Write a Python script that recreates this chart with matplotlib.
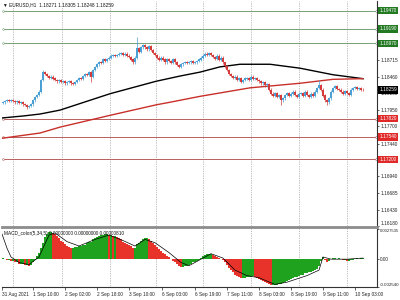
import numpy as np
import matplotlib
matplotlib.use('Agg')
import matplotlib.pyplot as plt
import matplotlib.transforms as mtransforms

plt.rcParams['font.family'] = ['Liberation Sans', 'DejaVu Sans']

# Hourly closes, EURUSD H1 (bar 0 = 31 Aug 2021)
closes = [
    1.1807, 1.1809, 1.1810, 1.1809, 1.1810, 1.1809, 1.1807, 1.1809, 1.1806, 1.1807,
    1.1804, 1.1803, 1.1800, 1.1801, 1.1804, 1.1810, 1.1815, 1.1818, 1.1823, 1.1841,
    1.1853, 1.1850, 1.1847, 1.1844, 1.1846, 1.1843, 1.1841, 1.1839, 1.1841, 1.1838,
    1.1839, 1.1836, 1.1838, 1.1839, 1.1836, 1.1835, 1.1838, 1.1841, 1.1844, 1.1843,
    1.1847, 1.1850, 1.1849, 1.1853, 1.1846, 1.1856, 1.1861, 1.1865, 1.1868, 1.1867,
    1.1872, 1.1870, 1.1873, 1.1875, 1.1878, 1.1879, 1.1878, 1.1879, 1.1881, 1.1882,
    1.1879, 1.1881, 1.1878, 1.1876, 1.1872, 1.1868, 1.1875, 1.1890, 1.1884, 1.1891,
    1.1894, 1.1891, 1.1888, 1.1893, 1.1887, 1.1882, 1.1879, 1.1875, 1.1872, 1.1875,
    1.1872, 1.1868, 1.1873, 1.1870, 1.1867, 1.1872, 1.1868, 1.1864, 1.1861, 1.1865,
    1.1867, 1.1868, 1.1867, 1.1868, 1.1870, 1.1867, 1.1868, 1.1870, 1.1872, 1.1875,
    1.1878, 1.1881, 1.1879, 1.1882, 1.1879, 1.1876, 1.1873, 1.1878, 1.1872, 1.1875,
    1.1868, 1.1862, 1.1856, 1.1850, 1.1847, 1.1844, 1.1846, 1.1841, 1.1843, 1.1838,
    1.1841, 1.1843, 1.1844, 1.1841, 1.1846, 1.1843, 1.1844, 1.1841, 1.1839, 1.1836,
    1.1838, 1.1833, 1.1835, 1.1826, 1.1820, 1.1817, 1.1821, 1.1815, 1.1818, 1.1810,
    1.1813, 1.1818, 1.1821, 1.1817, 1.1820, 1.1823, 1.1818, 1.1815, 1.1820, 1.1821,
    1.1817, 1.1823, 1.1818, 1.1815, 1.1820, 1.1817, 1.1823, 1.1829, 1.1833, 1.1826,
    1.1817, 1.1810, 1.1807, 1.1813, 1.1823, 1.1829, 1.1832, 1.1827, 1.1826, 1.1823,
    1.1820, 1.1824, 1.1821, 1.1818, 1.1826, 1.1829, 1.1830, 1.1827, 1.1829, 1.1826,
    1.18259,
]
first_open = 1.1806
spike_high = {67: 1.1907, 158: 1.1841, 20: 1.1856, 111: 1.1866}
spike_low = {12: 1.1797, 44: 1.1838, 139: 1.1803, 162: 1.1803, 65: 1.1865}

# moving averages (bar index, price)
ma_black_x = [-0.5, 10, 18.5, 28.5, 43.5, 53.5, 76.5, 88.5, 98.5, 108.5, 118.5, 133.5, 148.5, 165, 180]
ma_black_y = [1.1783, 1.1786, 1.1789, 1.1795, 1.1810, 1.1820, 1.1839, 1.1847, 1.1853, 1.1861,
              1.1865, 1.1865, 1.1859, 1.1849, 1.1843]
ma_red_x = [-0.5, 18.5, 28.5, 53.5, 76.5, 83.5, 98.5, 123.5, 148.5, 165, 180]
ma_red_y = [1.1752, 1.1760, 1.1769, 1.1787, 1.1803, 1.1807, 1.1816, 1.1829, 1.1836, 1.1842, 1.1843]

# horizontal levels
green_levels = [1.19470, 1.19190, 1.18970]
red_levels = [1.17820, 1.17540, 1.17200]
last_price = 1.18259

price_ticks = [1.18715, 1.18460, 1.18205, 1.17950, 1.17700, 1.17440, 1.17185,
               1.16940, 1.16685, 1.16430, 1.16180]
hidden_ticks = [1.17185]   # covered by the level box

# MACD histogram (x1e-3) and signal line
macd_hist = [
    0.1, 0.0, -0.1, -0.1, -0.2, -0.2, -0.3,
    -0.3, -0.4, -0.4, -0.4, -0.5, -0.5,
    -0.6, -0.5, -0.3, -0.1,
    0.3, 0.6, 1.0,
    1.5, 2.0, 2.3, 2.5,
    2.5, 2.4, 2.3,
    2.1, 1.9, 1.7, 1.6, 1.4,
    1.2, 1.1, 1.0, 1.0, 1.1,
    1.1, 1.2, 1.2, 1.3, 1.3,
    1.5, 1.6, 1.6, 1.8, 1.9,
    2.0, 2.1, 2.2, 2.2, 2.3,
    2.3, 2.2, 2.2, 2.1, 2.1,
    2.0, 1.9, 1.8, 1.6, 1.5,
    1.4, 1.3, 1.2, 1.0, 1.0,
    1.4, 1.5, 1.7, 1.8, 1.9, 1.9,
    1.8, 1.7, 1.5, 1.3, 1.1, 0.9,
    0.7, 0.6, 0.5, 0.3, 0.2, 0.0,
    -0.2, -0.3, -0.4, -0.6,
    -0.7, -0.7, -0.6, -0.6, -0.5,
    -0.4, -0.3, -0.3, -0.2, -0.1,
    0.1, 0.3, 0.4, 0.5, 0.5,
    0.5, 0.4, 0.3, 0.2, 0.1,
    0.0, -0.1, -0.3,
    -0.5, -0.8, -1.0, -1.2, -1.4, -1.5, -1.6,
    -1.7, -1.7, -1.7, -1.6, -1.6,
    -1.6, -1.5, -1.6, -1.7, -1.8,
    -1.9, -2.0, -2.1, -2.2, -2.3, -2.4, -2.4, -2.4,
    -2.4, -2.3, -2.3, -2.2, -2.1,
    -2.0, -1.9, -1.8, -1.7, -1.6, -1.6, -1.5,
    -1.4, -1.4, -1.3, -1.3, -1.2, -1.2, -1.1,
    -1.0, -0.9, -0.6, -0.2, 0.2,
    -0.1, -0.3, -0.2,
    0.0, 0.1, 0.1, 0.0, 0.1, 0.0, -0.1, -0.1, -0.2,
    -0.2, -0.1, -0.1, 0.0, 0.1, 0.0, 0.1, 0.1,
]
signal_x = [-0.5, 2, 4, 8, 13, 18, 23, 26, 32, 38, 46, 53, 60, 66, 71, 76, 83, 89, 93, 100,
            104, 110, 116, 122, 128, 136, 142, 152, 158, 160, 164, 172, 180]
signal_y = [2.3, 1.0, 0.2, -0.3, -0.5, 0.2, 2.2, 2.4, 1.6, 1.2, 1.8, 2.2, 1.7, 1.2, 1.8, 1.5,
            0.6, -0.3, -0.6, 0.1, 0.5, 0.1, -1.0, -1.5, -1.7, -2.3, -2.1, -1.5, -1.0, 0.2,
            0.0, 0.0, 0.1]

time_labels = ['31 Aug 2021', '1 Sep 10:00', '2 Sep 02:00', '2 Sep 18:00', '3 Sep 10:00',
               '6 Sep 03:00', '6 Sep 19:00', '7 Sep 11:00', '8 Sep 03:00', '8 Sep 19:00',
               '9 Sep 11:00', '10 Sep 03:00']
time_pos = [-0.5, 15, 31, 47, 63, 79.5, 96, 112, 128, 144, 160, 176]
grid_pos = [5, 29.5, 53.5, 76.5, 100, 124, 148, 172]

UP = '#4a9fd4'
DOWN = '#d43b3b'
FS = 3.4

fig = plt.figure(figsize=(4, 3), dpi=100)
ax = fig.add_axes([2 / 400, 1 - 227 / 300, 375 / 400, 226 / 300])
ax2 = fig.add_axes([2 / 400, 1 - 287 / 300, 375 / 400, 58 / 300])

n = len(closes)
idx = np.arange(n)
c = np.array(closes)
o = np.concatenate([[first_open], c[:-1]])
hi = np.maximum(o, c) + 0.0002
lo = np.minimum(o, c) - 0.0002
for k, v in spike_high.items():
    hi[k] = v
for k, v in spike_low.items():
    lo[k] = v
col = [UP if cc >= oo else DOWN for oo, cc in zip(o, c)]

for g in grid_pos:
    ax.axvline(g, color='#888888', lw=0.5, ls=(0, (1, 1.5)), zorder=0)
    ax2.axvline(g, color='#888888', lw=0.5, ls=(0, (1, 1.5)), zorder=0)

x0, x1 = -0.5, 187
for lv in green_levels:
    ax.plot([x0 + 0.3, x1 - 0.3], [lv, lv], color='#78a078', lw=0.7, zorder=1,
            marker='o', ms=1.3, mfc='white', mew=0.4, clip_on=False)
for lv in red_levels:
    ax.plot([x0 + 0.3, x1 - 0.3], [lv, lv], color='#b86060', lw=0.7, zorder=1,
            marker='o', ms=1.3, mfc='white', mew=0.4, clip_on=False)

ax.plot(ma_black_x, ma_black_y, color='black', lw=1.0, zorder=3)
ax.plot(ma_red_x, ma_red_y, color='#c8302a', lw=1.0, zorder=3)

ax.vlines(idx, lo, hi, colors=col, lw=0.5, zorder=4)
ax.bar(idx, np.abs(c - o) + 0.00003, bottom=np.minimum(o, c), width=0.7, color=col,
       linewidth=0, zorder=4)

ax.set_xlim(x0, x1)
ax.set_ylim(1.16165, 1.19616)
ax.set_xticks([])
ax.yaxis.tick_right()
ax.set_yticks(price_ticks)
ax.set_yticklabels(['' if p in hidden_ticks else '%.5f' % p for p in price_ticks])
ax.tick_params(axis='y', labelsize=FS, length=1.5, width=0.5, pad=1, colors='#222222')
for s in ['top', 'left']:
    ax.spines[s].set_visible(False)
ax.spines['right'].set_linewidth(0.8)
ax.spines['right'].set_color('#333333')
ax.spines['bottom'].set_linewidth(2.0)
ax.spines['bottom'].set_color('#8c8c8c')
for lab in ax.get_yticklabels():
    if lab.get_text() == '1.16180':
        lab.set_va('bottom')

trans = mtransforms.blended_transform_factory(ax.transAxes, ax.transData)
for lv in green_levels:
    ax.text(1.006, lv, '%.5f' % lv, transform=trans, fontsize=FS, color='white',
            va='center', ha='left', zorder=6,
            bbox=dict(boxstyle='square,pad=0.25', fc='#237a23', ec='none'))
for lv in red_levels:
    ax.text(1.006, lv, '%.5f' % lv, transform=trans, fontsize=FS, color='white',
            va='center', ha='left', zorder=6,
            bbox=dict(boxstyle='square,pad=0.25', fc='#e02a2a', ec='none'))
ax.text(1.006, last_price, '%.5f' % last_price, transform=trans, fontsize=FS, color='white',
        va='center', ha='left', zorder=6,
        bbox=dict(boxstyle='square,pad=0.25', fc='black', ec='none'))

fig.text(3 / 400, 1 - 5 / 300, '\u25bc EURUSD,H1  1.18271 1.18305 1.18248 1.18259',
         fontsize=FS, va='center', ha='left', color='#111111')

# MACD panel
h = np.array(macd_hist) * 1e-3
prev = np.concatenate([[h[0]], h[:-1]])
hcol = ['#1fa31f' if v >= p else '#e8332a' for v, p in zip(h, prev)]
ax2.bar(idx, h, width=0.8, color=hcol, linewidth=0, zorder=2)
ax2.plot(signal_x, np.array(signal_y) * 1e-3, color='black', lw=0.5, zorder=3)
ax2.set_xlim(x0, x1)
ax2.set_ylim(-0.00254, 0.00275)
ax2.yaxis.tick_right()
ax2.set_yticks([0.0027535, 0.0, -0.00254])
ax2.set_yticklabels(['0.0027535', '0.00', '-0.002540'])
ax2.tick_params(axis='y', labelsize=FS, length=1.5, width=0.5, pad=0.6, colors='#222222')
ax2.set_xticks(time_pos)
ax2.set_xticklabels(time_labels, ha='left')
ax2.tick_params(axis='x', labelsize=FS, length=2, width=0.5, pad=1.5, colors='#222222')
ax2.spines['top'].set_visible(False)
ax2.spines['left'].set_visible(False)
for s in ['right', 'bottom']:
    ax2.spines[s].set_linewidth(0.8)
    ax2.spines[s].set_color('#333333')
ylabs = ax2.get_yticklabels()
ylabs[0].set_va('top')
ylabs[0].set_fontsize(3.0)
ylabs[1].set_va('center')
ylabs[2].set_va('bottom')
ylabs[2].set_fontsize(3.2)
ax2.text(0.005, 0.93, 'MACD_color(5,34,5) 0.00000000 0.00000000 0.00000810',
         transform=ax2.transAxes, fontsize=FS, va='center', ha='left', color='#111111')

fig.savefig('out.png', dpi=100)
